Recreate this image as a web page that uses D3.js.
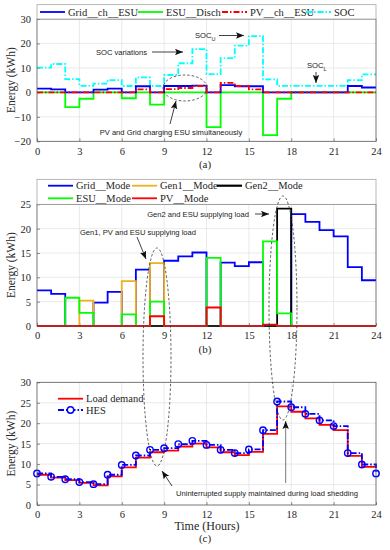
<!DOCTYPE html>
<html>
<head>
<meta charset="utf-8">
<style>
  body { margin: 0; background: #fff; }
  svg { display: block; }
</style>
</head>
<body>
<svg width="390" height="550"></svg>
<script src="https://d3js.org/d3.v7.min.js"></script>
<script>
// ---- data (hourly values, hour 0..23) ----
const hours = d3.range(25);
const xTicks = [0, 3, 6, 9, 12, 15, 18, 21, 24];

// panel (a)
const gridChESU = [1.5, 1.2, 0, 0, 1.1, 1.5, 0, 2.5, 0, 2.6, 2.6, 2.8, 0, 3.0, 2.5, 2.5, 0, 0, 0, 0, 0, 0, 2.6, 2.0];
const esuDisch  = [0, 0, -6, -2.6, 0, 0, -2.4, 0, -5, 0, 0, 0, -14.2, 0, 0, 0, -17.5, -2.6, 0, 0, 0, 0, 0, 0];
const pvChESU   = [0, 0, 0, 0, 0, 0, 0, 1.2, 0, 1.3, 1.8, 2.6, 0, 3.9, 2.6, 1.2, 0, 0, 0, 0, 0, 0, 0, 0];
const soc       = [10.1, 11.6, 5.4, 2.7, 3.6, 5.0, 2.6, 6.1, 2.6, 7.1, 11.9, 17.7, 7.5, 14.0, 19.1, 23.0, 5.3, 2.7, 2.7, 2.7, 2.7, 2.7, 5.0, 7.4];
const ticksA = [-20, -10, 0, 10, 20, 30];

// panel (b)
const gridMode = [7.3, 6.6, 0, 0, 4.8, 7.0, 0, 11.6, 0, 13.4, 14.3, 15.1, 0, 13.0, 12.3, 13.1, 0, 0, 23.0, 21.4, 19.7, 18.4, 12.1, 9.4];
const gen1Mode = [0, 0, 0, 5.2, 0, 0, 9.2, 0, 12.9, 0, 0, 0, 0, 0, 0, 0, 0, 0, 0, 0, 0, 0, 0, 0];
const gen2Mode = [0, 0, 0, 0, 0, 0, 0, 0, 0, 0, 0, 0, 0, 0, 0, 0, 0, 24.1, 0, 0, 0, 0, 0, 0];
const esuMode  = [0, 0, 5.8, 2.7, 0, 0, 2.4, 0, 5.0, 0, 0, 0, 14.0, 0, 0, 0, 17.4, 2.6, 0, 0, 0, 0, 0, 0];
const pvMode   = [0, 0, 0, 0, 0, 0, 0, 0, 2.0, 0, 0, 0, 3.8, 0, 0, 0, 0.3, 0, 0, 0, 0, 0, 0, 0];
const ticksB = [0, 5, 10, 15, 20, 25];

// panel (c)
const loadDemand = [7.4, 6.7, 6.1, 5.4, 4.8, 7.0, 9.2, 11.6, 12.9, 13.3, 14.3, 15.0, 14.1, 12.9, 12.2, 13.0, 17.4, 24.1, 22.8, 21.2, 19.6, 18.3, 12.0, 9.3];
const hes        = [7.7, 6.9, 6.3, 5.6, 5.1, 7.4, 9.8, 12.1, 13.5, 13.9, 14.9, 15.7, 14.7, 13.5, 12.7, 13.6, 18.3, 25.3, 23.9, 22.3, 20.7, 19.3, 12.7, 9.9, 7.7];
const ticksC = [0, 5, 10, 15, 20, 25, 30];

// ---- layout ----
const svg = d3.select("svg");
const x = d3.scaleLinear().domain([0, 24]).range([37, 376]);
const serif = "'Liberation Serif', 'Times New Roman', serif";
const sans = "'Liberation Sans', Arial, sans-serif";

const defs = svg.append("defs");
defs.append("marker")
  .attr("id", "arr").attr("viewBox", "0 0 10 8")
  .attr("refX", 10).attr("refY", 4)
  .attr("markerWidth", 8).attr("markerHeight", 6.5)
  .attr("markerUnits", "userSpaceOnUse")
  .attr("orient", "auto")
  .append("path").attr("d", "M0,0 L10,4 L0,8 L2,4 z").attr("fill", "#111");

function stairs(vals) {
  // repeat last value so the step reaches hour 24
  let v = vals.length === 24 ? vals.concat([vals[23]]) : vals;
  return hours.map((h, i) => [h, v[i]]);
}

function serifText(sel, size) {
  return sel.style("font-family", serif).style("font-size", size + "px").style("fill", "#262626");
}

function drawAxes(y, yTicks, caption, capY) {
  let g = svg.append("g");
  let [y0, y1] = y.range();
  // grid
  g.selectAll(".gx").data(xTicks.slice(1, -1)).join("line")
    .attr("x1", d => x(d)).attr("x2", d => x(d))
    .attr("y1", y0).attr("y2", y1)
    .attr("stroke", "#e1e1e1").attr("stroke-width", 0.7);
  g.selectAll(".gy").data(yTicks.slice(1, -1)).join("line")
    .attr("x1", x(0)).attr("x2", x(24))
    .attr("y1", d => y(d)).attr("y2", d => y(d))
    .attr("stroke", "#e1e1e1").attr("stroke-width", 0.7);

  let xa = svg.append("g").attr("transform", `translate(0,${y0})`)
    .call(d3.axisBottom(x).tickValues(xTicks).tickSize(-3).tickPadding(6));
  let ya = svg.append("g").attr("transform", `translate(${x(0)},0)`)
    .call(d3.axisLeft(y).tickValues(yTicks).tickSize(-3).tickPadding(6));
  [xa, ya].forEach(a => {
    a.select(".domain").remove();
    a.attr("font-family", null).attr("font-size", null);
    a.selectAll("line").attr("stroke", "#444").attr("stroke-width", 0.6);
    serifText(a.selectAll("text"), 10.5);
  });

  serifText(svg.append("text"), 11).attr("text-anchor", "middle")
    .attr("x", 205).attr("y", capY).text(caption);

  serifText(svg.append("text"), 11.5)
    .attr("transform", `translate(15,${(y0 + y1) / 2}) rotate(-90)`)
    .attr("text-anchor", "middle").text("Energy (kWh)");
  return g;
}

function frame(y) {
  let [y0, y1] = y.range();
  svg.append("rect").attr("x", x(0)).attr("y", y1)
    .attr("width", x(24) - x(0)).attr("height", y0 - y1)
    .attr("fill", "none").attr("stroke", "#555").attr("stroke-width", 0.8);
}

function drawSeries(y, vals, color, width, dash) {
  let line = d3.line().x(d => x(d[0])).y(d => y(d[1])).curve(d3.curveStepAfter);
  svg.append("path").datum(stairs(vals))
    .attr("d", line)
    .attr("fill", "none")
    .attr("stroke", color)
    .attr("stroke-width", width)
    .attr("stroke-dasharray", dash || null);
}

function legendItem(lx, ly, label, color, width, dash) {
  svg.append("line").attr("x1", lx).attr("x2", lx + 25).attr("y1", ly).attr("y2", ly)
    .attr("stroke", color).attr("stroke-width", width).attr("stroke-dasharray", dash || null);
  serifText(svg.append("text"), 10.5).attr("x", lx + 28).attr("y", ly + 3.5).text(label);
}

function note(tx, ty, txt, anchor) {
  return svg.append("text").style("font-family", sans).style("font-size", "7.6px").style("fill", "#222")
    .attr("x", tx).attr("y", ty)
    .attr("text-anchor", anchor || "start").text(txt);
}

function arrow(x1, y1, x2, y2, color) {
  svg.append("line").attr("x1", x1).attr("y1", y1).attr("x2", x2).attr("y2", y2)
    .attr("stroke", color || "#111").attr("stroke-width", 0.8).attr("marker-end", "url(#arr)");
}

function dashedEllipse(cx, cy, rx, ry) {
  svg.append("ellipse").attr("cx", cx).attr("cy", cy).attr("rx", rx).attr("ry", ry)
    .attr("fill", "none").attr("stroke", "#333").attr("stroke-width", 0.8)
    .attr("stroke-dasharray", "2.5,2");
}

const dashDot = "6,2,1.5,2";

// ================= panel (a) =================
const yA = d3.scaleLinear().domain([-20, 30]).range([141.3, 19]);
drawAxes(yA, ticksA, "(a)", 168);
drawSeries(yA, soc, "#00ffff", 1.8, dashDot);
drawSeries(yA, esuDisch, "#00ff00", 1.8);
drawSeries(yA, gridChESU, "#0000ff", 1.8);
drawSeries(yA, pvChESU, "#ff0000", 1.8, dashDot);
frame(yA);

svg.append("rect").attr("x", x(0)).attr("y", 4.7).attr("width", x(24) - x(0)).attr("height", 14.3)
  .attr("fill", "#fff").attr("stroke", "#9a9a9a").attr("stroke-width", 0.7);
legendItem(40, 12, "Grid__ch__ESU", "#0000ff", 1.8);
legendItem(138, 12, "ESU__Disch", "#00ff00", 1.8);
legendItem(222, 12, "PV__ch__ESU", "#ff0000", 1.8, dashDot);
legendItem(306, 12, "SOC", "#00ffff", 1.8, dashDot);

note(96, 55, "SOC variations");
arrow(152, 52, 183, 52);
let socU = note(195, 38, "SOC");
socU.append("tspan").attr("dy", 2.5).style("font-size", "5.5px").text("U");
arrow(219, 35.5, 244, 35.5);
let socL = note(307, 68, "SOC");
socL.append("tspan").attr("dy", 2.5).style("font-size", "5.5px").text("L");
arrow(316, 72, 316, 83);
dashedEllipse(185, 88, 22, 13);
note(171, 135, "PV and Grid charging ESU simultaneously", "middle");
arrow(170, 124, 176, 101);

// ================= panel (b) =================
const yB = d3.scaleLinear().domain([0, 25]).range([326, 204.3]);
drawAxes(yB, ticksB, "(b)", 353);
drawSeries(yB, gridMode, "#0000ff", 1.8);
drawSeries(yB, gen1Mode, "#edb120", 1.8);
drawSeries(yB, gen2Mode, "#000000", 1.8);
drawSeries(yB, esuMode, "#00ff00", 1.8);
drawSeries(yB, pvMode, "#ff0000", 1.8);
frame(yB);

svg.append("rect").attr("x", x(0)).attr("y", 179.3).attr("width", x(24) - x(0)).attr("height", 25)
  .attr("fill", "#fff").attr("stroke", "#9a9a9a").attr("stroke-width", 0.7);
legendItem(48, 185.7, "Grid__Mode", "#0000ff", 1.8);
legendItem(132, 185.7, "Gen1__Mode", "#edb120", 1.8);
legendItem(217, 185.7, "Gen2__Mode", "#000000", 2.2);
legendItem(48, 198.3, "ESU__Mode", "#00ff00", 1.8);
legendItem(132, 198.3, "PV__Mode", "#ff0000", 1.8);

note(138, 234.5, "Gen1, PV and ESU supplying load", "middle");
arrow(137, 237, 146, 259);
note(198, 216.5, "Gen2 and ESU supplying load", "middle");
arrow(255, 214, 269, 214);

// ================= panel (c) =================
const yC = d3.scaleLinear().domain([0, 30]).range([505, 382.3]);
drawAxes(yC, ticksC, "(c)", 542);
serifText(svg.append("text"), 12).attr("x", 207).attr("y", 530)
  .attr("text-anchor", "middle").text("Time (Hours)");
drawSeries(yC, loadDemand, "#ff0000", 1.8);
drawSeries(yC, hes, "#0000ff", 1.8, dashDot);
svg.append("g").selectAll("circle").data(hes).join("circle")
  .attr("cx", (d, i) => x(i)).attr("cy", d => yC(d)).attr("r", 3.2)
  .attr("fill", "none").attr("stroke", "#0000ff").attr("stroke-width", 1.4);
frame(yC);

legendItem(58, 398.7, "Load demand", "#ff0000", 1.8);
legendItem(58, 410, "HES", "#0000ff", 1.8, dashDot);
svg.append("circle").attr("cx", 70.5).attr("cy", 410).attr("r", 3.2)
  .attr("fill", "#fff").attr("stroke", "#0000ff").attr("stroke-width", 1.4);

note(176, 495.5, "Uninterrupted supply maintained during load shedding");
arrow(172, 486, 162, 471);
arrow(285.7, 483, 285.7, 421, "#555");

// long dashed ellipses linking (b) and (c)
dashedEllipse(157, 357, 14, 109);
dashedEllipse(283, 308, 14, 112);
</script>
</body>
</html>
